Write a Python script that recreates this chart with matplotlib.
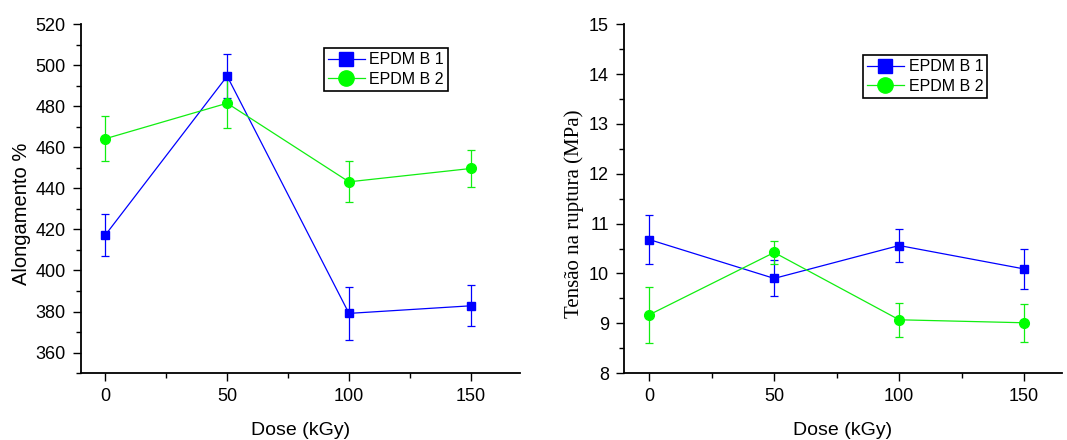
import matplotlib
matplotlib.use("Agg")
import matplotlib.pyplot as plt
from matplotlib.ticker import MultipleLocator
from matplotlib.lines import Line2D

# Dados
dose = [0, 50, 100, 150]

along_b1 = [417.3, 494.7, 379.1, 382.8]
along_b1_err = [10, 10.7, 13, 10]
along_b2 = [464.2, 481.5, 443.2, 449.7]
along_b2_err = [11, 12, 10, 9]

tensao_b1 = [10.68, 9.90, 10.56, 10.09]
tensao_b1_err = [0.49, 0.36, 0.34, 0.40]
tensao_b2 = [9.17, 10.42, 9.07, 9.01]
tensao_b2_err = [0.56, 0.24, 0.34, 0.38]

labels = ["EPDM B 1", "EPDM B 2"]

plt.rcParams.update({'font.family': 'Liberation Sans', 'font.size': 13})

fig = plt.figure(figsize=(10.67, 4.4), dpi=100)
ax1 = fig.add_axes([0.0759, 0.152, 0.411, 0.793])
ax2 = fig.add_axes([0.585, 0.152, 0.41, 0.793])

azul = "#0000ff"
verde = "#00ff00"


def draw(ax, y1, e1, y2, e2, anchor):
    ax.errorbar(dose, y1, yerr=e1, color=azul, marker="s", markersize=6,
                linewidth=0.9, elinewidth=0.9, capsize=3, capthick=0.9)
    ax.errorbar(dose, y2, yerr=e2, color="#11ee11", marker="o", markersize=7,
                markerfacecolor=verde, markeredgecolor=verde,
                linewidth=0.9, elinewidth=0.9, capsize=3, capthick=0.9)
    ax.spines["top"].set_visible(False)
    ax.spines["right"].set_visible(False)
    ax.spines["left"].set_linewidth(1.3)
    ax.spines["bottom"].set_linewidth(1.3)
    ax.xaxis.set_major_locator(MultipleLocator(50))
    ax.xaxis.set_minor_locator(MultipleLocator(25))
    ax.tick_params(which="major", direction="out", length=6, width=1, pad=5)
    ax.tick_params(which="minor", direction="out", length=3.5, width=1)
    ax.set_xlabel("Dose (kGy)", fontsize=14, labelpad=12)
    handles = [
        Line2D([], [], color=azul, marker="s", markersize=9.5, linewidth=0.9),
        Line2D([], [], color="#11ee11", marker="o", markersize=11,
               markerfacecolor=verde, markeredgecolor=verde, linewidth=0.9),
    ]
    leg = ax.legend(handles, labels, loc="upper left", bbox_to_anchor=anchor,
                    frameon=True, fancybox=False, edgecolor="black", framealpha=1,
                    fontsize=11.5, handlelength=2.3, borderpad=0.25, labelspacing=0.3,
                    handletextpad=0.3, borderaxespad=0)
    leg.get_frame().set_linewidth(1.2)


draw(ax1, along_b1, along_b1_err, along_b2, along_b2_err, (0.554, 0.931))
ax1.set_xlim(-10, 170)
ax1.set_ylim(350, 520)
ax1.yaxis.set_major_locator(MultipleLocator(20))
ax1.yaxis.set_minor_locator(MultipleLocator(10))
ax1.set_ylabel("Alongamento %", fontsize=14.5)
ax1.yaxis.set_label_coords(-0.114, 0.458)

draw(ax2, tensao_b1, tensao_b1_err, tensao_b2, tensao_b2_err, (0.546, 0.911))
ax2.set_xlim(-10, 165)
ax2.set_ylim(8, 15)
ax2.yaxis.set_major_locator(MultipleLocator(1))
ax2.yaxis.set_minor_locator(MultipleLocator(0.5))
ax2.set_ylabel("Tensão na ruptura (MPa)", fontsize=15, family="Liberation Serif")
ax2.yaxis.set_label_coords(-0.093, 0.458)

fig.savefig("out.png", dpi=100)
